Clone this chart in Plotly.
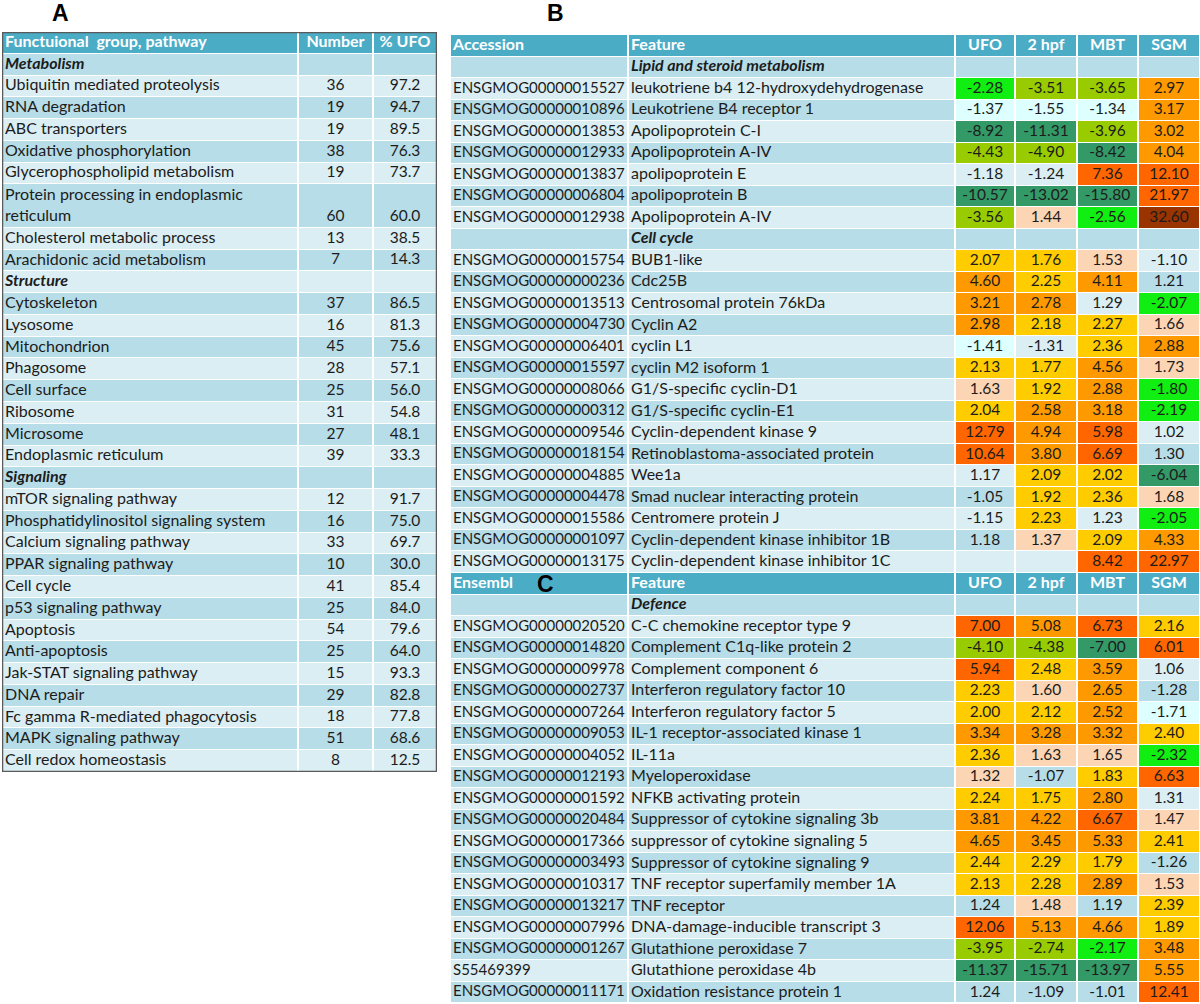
import plotly.graph_objects as go

# ---------------- Table A: functional groups ----------------
A_HEADER = ["Functuional\u00a0 group, pathway", "Number", "% UFO"]
A_LABELS = [
    "Metabolism", "Ubiquitin mediated proteolysis", "RNA degradation", "ABC transporters",
    "Oxidative phosphorylation", "Glycerophospholipid metabolism",
    "Protein processing in endoplasmic<br>reticulum", "Cholesterol metabolic process",
    "Arachidonic acid metabolism",
    "Structure", "Cytoskeleton", "Lysosome", "Mitochondrion", "Phagosome", "Cell surface",
    "Ribosome", "Microsome", "Endoplasmic reticulum",
    "Signaling", "mTOR signaling pathway", "Phosphatidylinositol signaling system",
    "Calcium signaling pathway", "PPAR signaling pathway", "Cell cycle", "p53 signaling pathway",
    "Apoptosis", "Anti-apoptosis", "Jak-STAT signaling pathway", "DNA repair",
    "Fc gamma R-mediated phagocytosis", "MAPK signaling pathway", "Cell redox homeostasis",
]
A_NUMBER = [None, 36, 19, 19, 38, 19, 60, 13, 7,
            None, 37, 16, 45, 28, 25, 31, 27, 39,
            None, 12, 16, 33, 10, 41, 25, 54, 25, 15, 29, 18, 51, 8]
A_PCT = [None, 97.2, 94.7, 89.5, 76.3, 73.7, 60.0, 38.5, 14.3,
         None, 86.5, 81.3, 75.6, 57.1, 56.0, 54.8, 48.1, 33.3,
         None, 91.7, 75.0, 69.7, 30.0, 85.4, 84.0, 79.6, 64.0, 93.3, 82.8, 77.8, 68.6, 12.5]

# ---------------- Tables B / C: fold changes ----------------
B_HEADER = ["Accession", "Feature", "UFO", "2 hpf", "MBT", "SGM"]
C_HEADER = ["Ensembl", "Feature", "UFO", "2 hpf", "MBT", "SGM"]

LIPID_ACC = ["ENSGMOG00000015527", "ENSGMOG00000010896", "ENSGMOG00000013853",
             "ENSGMOG00000012933", "ENSGMOG00000013837", "ENSGMOG00000006804",
             "ENSGMOG00000012938"]
LIPID_FEAT = ["leukotriene b4 12-hydroxydehydrogenase", "Leukotriene B4 receptor 1",
              "Apolipoprotein C-I", "Apolipoprotein A-IV", "apolipoprotein E",
              "apolipoprotein B", "Apolipoprotein A-IV"]
LIPID_UFO = [-2.28, -1.37, -8.92, -4.43, -1.18, -10.57, -3.56]
LIPID_HPF = [-3.51, -1.55, -11.31, -4.90, -1.24, -13.02, 1.44]
LIPID_MBT = [-3.65, -1.34, -3.96, -8.42, 7.36, -15.80, -2.56]
LIPID_SGM = [2.97, 3.17, 3.02, 4.04, 12.10, 21.97, 32.60]

CYCLE_ACC = ["ENSGMOG00000015754", "ENSGMOG00000000236", "ENSGMOG00000013513",
             "ENSGMOG00000004730", "ENSGMOG00000006401", "ENSGMOG00000015597",
             "ENSGMOG00000008066", "ENSGMOG00000000312", "ENSGMOG00000009546",
             "ENSGMOG00000018154", "ENSGMOG00000004885", "ENSGMOG00000004478",
             "ENSGMOG00000015586", "ENSGMOG00000001097", "ENSGMOG00000013175"]
CYCLE_FEAT = ["BUB1-like", "Cdc25B", "Centrosomal protein 76kDa", "Cyclin A2", "cyclin L1",
              "cyclin M2 isoform 1", "G1/S-specific cyclin-D1", "G1/S-specific cyclin-E1",
              "Cyclin-dependent kinase 9", "Retinoblastoma-associated protein", "Wee1a",
              "Smad nuclear interacting protein", "Centromere protein J",
              "Cyclin-dependent kinase inhibitor 1B", "Cyclin-dependent kinase inhibitor 1C"]
CYCLE_UFO = [2.07, 4.60, 3.21, 2.98, -1.41, 2.13, 1.63, 2.04, 12.79, 10.64, 1.17, -1.05, -1.15, 1.18, None]
CYCLE_HPF = [1.76, 2.25, 2.78, 2.18, -1.31, 1.77, 1.92, 2.58, 4.94, 3.80, 2.09, 1.92, 2.23, 1.37, None]
CYCLE_MBT = [1.53, 4.11, 1.29, 2.27, 2.36, 4.56, 2.88, 3.18, 5.98, 6.69, 2.02, 2.36, 1.23, 2.09, 8.42]
CYCLE_SGM = [-1.10, 1.21, -2.07, 1.66, 2.88, 1.73, -1.80, -2.19, 1.02, 1.30, -6.04, 1.68, -2.05, 4.33, 22.97]

DEF_ACC = ["ENSGMOG00000020520", "ENSGMOG00000014820", "ENSGMOG00000009978",
           "ENSGMOG00000002737", "ENSGMOG00000007264", "ENSGMOG00000009053",
           "ENSGMOG00000004052", "ENSGMOG00000012193", "ENSGMOG00000001592",
           "ENSGMOG00000020484", "ENSGMOG00000017366", "ENSGMOG00000003493",
           "ENSGMOG00000010317", "ENSGMOG00000013217", "ENSGMOG00000007996",
           "ENSGMOG00000001267", "S55469399", "ENSGMOG00000011171"]
DEF_FEAT = ["C-C chemokine receptor type 9", "Complement C1q-like protein 2",
            "Complement component 6", "Interferon regulatory factor 10",
            "Interferon regulatory factor 5", "IL-1 receptor-associated kinase 1", "IL-11a",
            "Myeloperoxidase", "NFKB activating protein", "Suppressor of cytokine signaling 3b",
            "suppressor of cytokine signaling 5", "Suppressor of cytokine signaling 9",
            "TNF receptor superfamily member 1A", "TNF receptor",
            "DNA-damage-inducible transcript 3", "Glutathione peroxidase 7",
            "Glutathione peroxidase 4b", "Oxidation resistance protein 1"]
DEF_UFO = [7.00, -4.10, 5.94, 2.23, 2.00, 3.34, 2.36, 1.32, 2.24, 3.81, 4.65, 2.44, 2.13, 1.24, 12.06, -3.95, -11.37, 1.24]
DEF_HPF = [5.08, -4.38, 2.48, 1.60, 2.12, 3.28, 1.63, -1.07, 1.75, 4.22, 3.45, 2.29, 2.28, 1.48, 5.13, -2.74, -15.71, -1.09]
DEF_MBT = [6.73, -7.00, 3.59, 2.65, 2.52, 3.32, 1.65, 1.83, 2.80, 6.67, 5.33, 1.79, 2.89, 1.19, 4.66, -2.17, -13.97, -1.01]
DEF_SGM = [2.16, 6.01, 1.06, -1.28, -1.71, 2.40, -2.32, 6.63, 1.31, 1.47, 2.41, -1.26, 1.53, 2.39, 1.89, 3.48, 5.55, 12.41]

# ---------------- styling ----------------
FIG_W, FIG_H = 1200, 1004
FONT = "Lato"
TEXT_COL = "#1c1c1c"
FS_LABEL, FS_ACC, FS_NUM, FS_HEAD = 16, 15, 15.5, 16
PALETTE = ["#DAEEF3", "#B7DDE8", "#4BACC6",            # light row, medium row, header
           "#FCD5B4", "#FFCC00", "#FF9900", "#FF6600", "#993300",   # up-regulated
           "#DDFFFF", "#11EE11", "#99CC00", "#339966"]  # down-regulated
LIGHT, MED, HEAD = 0, 1, 2


def value_code(v, row_code):
    # Excel-like conditional formatting of the fold changes
    if v is None:
        return row_code
    if v >= 30:
        return 7
    if v >= 5.9:
        return 6
    if v >= 2.5:
        return 5
    if v >= 1.75:
        return 4
    if v >= 1.32:
        return 3
    if v > -1.33:
        return row_code
    if v > -1.8:
        return 8
    if v > -2.7:
        return 9
    if v > -6:
        return 10
    return 11


n = len(PALETTE)
colorscale = []
for i, c in enumerate(PALETTE):
    colorscale += [[i / n, c], [(i + 1) / n, c]]

# geometry (pixels)
A_LEFT, A_RIGHT, A_TOP, A_BOTTOM = 2, 437, 32, 772
A_COL_W = [296, 75, 64]
B_LEFT, B_TOP = 450, 35
B_COL_W = [178, 327, 60, 62, 61, 62]
B_ROW_PX = 21.52
PAD = 3


def edges(widths):
    out = [0]
    for w in widths:
        out.append(out[-1] + w)
    return out


def text_trace(xs, ys, ts, cs, ss, pos, ax):
    return go.Scatter(x=xs, y=ys, text=ts, mode="text", textposition=pos,
                      textfont=dict(family=FONT, size=ss, color=cs),
                      hoverinfo="skip", showlegend=False, xaxis="x" + ax, yaxis="y" + ax)


fig = go.Figure()

# ---------- table A ----------
a_heights = [1] + [2 if "<br>" in lab else 1 for lab in A_LABELS]
a_yedges = edges(a_heights)
a_xedges = edges(A_COL_W)
a_z = [[HEAD] * 3]
L = dict(x=[], y=[], t=[], c=[], s=[])
C = dict(x=[], y=[], t=[], c=[], s=[])


def put(store, x, y, t, c, s):
    store["x"].append(x); store["y"].append(y); store["t"].append(t)
    store["c"].append(c); store["s"].append(s)


for j, h in enumerate(A_HEADER):
    if j == 0:
        put(L, PAD, 0.5, f"<b>{h}</b>", "white", FS_HEAD)
    else:
        put(C, (a_xedges[j] + a_xedges[j + 1]) / 2, 0.5, f"<b>{h}</b>", "white", FS_HEAD)

for i, lab in enumerate(A_LABELS):
    bg = MED if i % 2 == 0 else LIGHT
    a_z.append([bg] * 3)
    top, bot = a_yedges[i + 1], a_yedges[i + 2]
    is_group = A_NUMBER[i] is None
    put(L, PAD, (top + bot) / 2, f"<b><i>{lab}</i></b>" if is_group else lab, TEXT_COL, FS_LABEL)
    if not is_group:
        for j, txt in ((1, f"{A_NUMBER[i]}"), (2, f"{A_PCT[i]:.1f}")):
            put(C, (a_xedges[j] + a_xedges[j + 1]) / 2, bot - 0.5, txt, TEXT_COL, FS_NUM)

fig.add_trace(go.Heatmap(z=a_z, x=a_xedges, y=a_yedges, colorscale=colorscale,
                         zmin=-0.5, zmax=n - 0.5, showscale=False, xgap=2, ygap=1,
                         hoverinfo="skip", xaxis="x", yaxis="y"))
fig.add_trace(text_trace(L["x"], L["y"], L["t"], L["c"], L["s"], "middle right", ""))
fig.add_trace(text_trace(C["x"], C["y"], C["t"], C["c"], C["s"], "middle center", ""))

# ---------- tables B / C ----------
sections = [
    (B_HEADER, "Lipid and steroid metabolism", LIPID_ACC, LIPID_FEAT, LIPID_UFO, LIPID_HPF, LIPID_MBT, LIPID_SGM),
    (None, "Cell cycle", CYCLE_ACC, CYCLE_FEAT, CYCLE_UFO, CYCLE_HPF, CYCLE_MBT, CYCLE_SGM),
    (C_HEADER, "Defence", DEF_ACC, DEF_FEAT, DEF_UFO, DEF_HPF, DEF_MBT, DEF_SGM),
]
b_xedges = edges(B_COL_W)
b_z = []
L = dict(x=[], y=[], t=[], c=[], s=[])
C = dict(x=[], y=[], t=[], c=[], s=[])


def add_cell(col, row, txt, color, size):
    if col < 2:
        put(L, b_xedges[col] + PAD, row + 0.5, txt, color, size)
    else:
        put(C, (b_xedges[col] + b_xedges[col + 1]) / 2, row + 0.5, txt, color, size)


for header, group, acc, feat, ufo, hpf, mbt, sgm in sections:
    if header:
        r = len(b_z)
        b_z.append([HEAD] * 6)
        for j, h in enumerate(header):
            add_cell(j, r, f"<b>{h}</b>", "white", FS_HEAD)
    r = len(b_z)
    b_z.append([MED] * 6)
    add_cell(1, r, f"<b><i>{group}</i></b>", TEXT_COL, FS_LABEL)
    for k in range(len(acc)):
        r = len(b_z)
        bg = LIGHT if k % 2 == 0 else MED
        vals = [ufo[k], hpf[k], mbt[k], sgm[k]]
        b_z.append([bg, bg] + [value_code(v, bg) for v in vals])
        add_cell(0, r, acc[k], TEXT_COL, FS_ACC)
        add_cell(1, r, feat[k], TEXT_COL, FS_LABEL)
        for j, v in enumerate(vals):
            if v is not None:
                add_cell(j + 2, r, f"{v:.2f}", TEXT_COL, FS_NUM)

b_yedges = list(range(len(b_z) + 1))
fig.add_trace(go.Heatmap(z=b_z, x=b_xedges, y=b_yedges, colorscale=colorscale,
                         zmin=-0.5, zmax=n - 0.5, showscale=False, xgap=2, ygap=1,
                         hoverinfo="skip", xaxis="x2", yaxis="y2"))
fig.add_trace(text_trace(L["x"], L["y"], L["t"], L["c"], L["s"], "middle right", "2"))
fig.add_trace(text_trace(C["x"], C["y"], C["t"], C["c"], C["s"], "middle center", "2"))

# outer frame of table A
fig.add_shape(type="rect", xref="x", yref="y", x0=0, x1=a_xedges[-1], y0=0, y1=a_yedges[-1],
              line=dict(color="#5a5a5a", width=2.5))

# panel letters
for letter, px, py in (("A", 60, 13), ("B", 555, 13), ("C", 545, 584)):
    fig.add_annotation(text=f"<b>{letter}</b>", x=px / FIG_W, y=1 - py / FIG_H,
                       xref="paper", yref="paper", xanchor="center", yanchor="middle",
                       showarrow=False, font=dict(family="Liberation Sans", size=23, color="black"))

hidden = dict(visible=False, fixedrange=True)
fig.update_layout(
    width=FIG_W, height=FIG_H,
    margin=dict(l=0, r=0, t=0, b=0),
    paper_bgcolor="white", plot_bgcolor="white",
    showlegend=False,
    xaxis=dict(domain=[A_LEFT / FIG_W, A_RIGHT / FIG_W], range=[0, a_xedges[-1]], **hidden),
    yaxis=dict(domain=[1 - A_BOTTOM / FIG_H, 1 - A_TOP / FIG_H], range=[a_yedges[-1], 0], **hidden),
    xaxis2=dict(domain=[B_LEFT / FIG_W, 1], range=[0, b_xedges[-1]], **hidden),
    yaxis2=dict(domain=[0, 1 - B_TOP / FIG_H], range=[(FIG_H - B_TOP) / B_ROW_PX, 0], **hidden),
)

# the page body has a default 8px margin; remove it so the figure fills the window
fig.write_html("out.html", config={"displayModeBar": False},
               post_script="document.body.style.margin='0';")
